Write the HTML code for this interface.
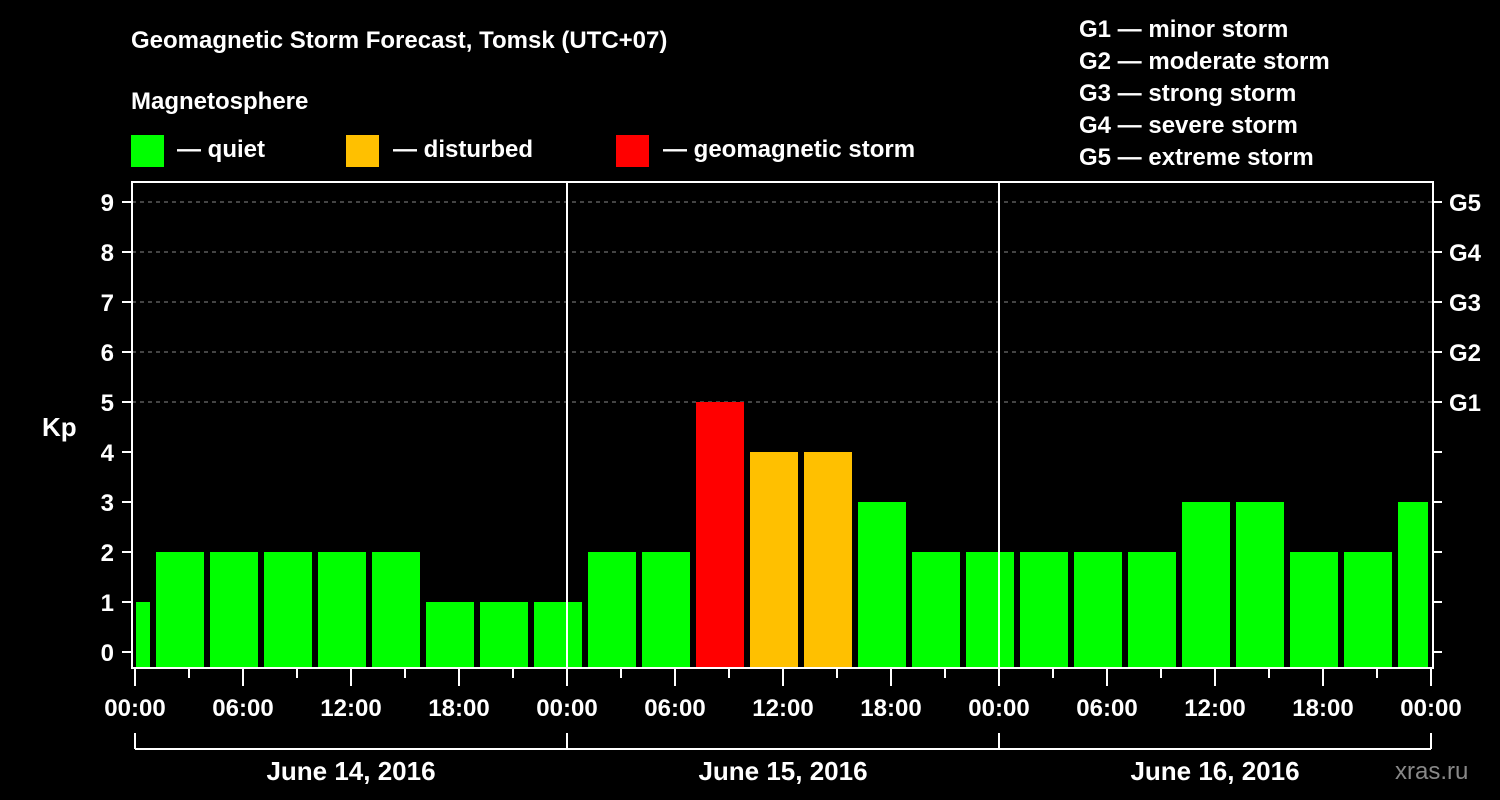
<!DOCTYPE html>
<html><head><meta charset="utf-8"><style>
html,body{margin:0;padding:0;background:#000;}
svg{display:block;font-family:"Liberation Sans",Arial,sans-serif;font-weight:bold;}
</style></head><body>
<svg id="chart" width="1500" height="800" viewBox="0 0 1500 800">
<rect width="1500" height="800" fill="#000"/>
<text x="131" y="48" fill="#fff" font-size="24">Geomagnetic Storm Forecast, Tomsk (UTC+07)</text>
<text x="131" y="109" fill="#fff" font-size="24">Magnetosphere</text>
<g><rect x="131" y="135" width="33" height="32" fill="#00ff00"/><text x="177" y="157" fill="#fff" font-size="24">— quiet</text></g>
<g><rect x="346" y="135" width="33" height="32" fill="#ffc000"/><text x="393" y="157" fill="#fff" font-size="24">— disturbed</text></g>
<g><rect x="616" y="135" width="33" height="32" fill="#ff0000"/><text x="663" y="157" fill="#fff" font-size="24">— geomagnetic storm</text></g>
<g fill="#fff" font-size="24">
<text x="1079" y="37">G1 — minor storm</text>
<text x="1079" y="69">G2 — moderate storm</text>
<text x="1079" y="101">G3 — strong storm</text>
<text x="1079" y="133">G4 — severe storm</text>
<text x="1079" y="165">G5 — extreme storm</text>
</g>
<g id="grid"></g>
<g id="bars"></g>
<g id="axes"></g>
<text x="42" y="436" fill="#fff" font-size="26">Kp</text>
<text x="1395" y="779" fill="#888" font-size="24" font-weight="normal">xras.ru</text>
</svg>
<script>
const kpValues=[1,2,2,2,2,2,1,1,1,2,2,5,4,4,3,2,2,2,2,2,3,3,2,2,3];
const kpTicks=[0,1,2,3,4,5,6,7,8,9];
const gLabels=["G1","G2","G3","G4","G5"];
const gLevels=[5,6,7,8,9];
const dayLabels=["June 14, 2016","June 15, 2016","June 16, 2016"];
const hourLabels=["00:00","06:00","12:00","18:00"];
const NS="http://www.w3.org/2000/svg";
const X0=135,PXH=18,Y0=652,PXU=50,L=132,R=1433,T=182,B=668;
const xs=h=>X0+h*PXH, ys=v=>Y0-v*PXU;
function mk(tag,attrs,parent){const e=document.createElementNS(NS,tag);for(const k in attrs)e.setAttribute(k,attrs[k]);document.getElementById(parent).appendChild(e);return e;}
const color=v=>v>=5?"#ff0000":v>=4?"#ffc000":"#00ff00";
// grid
gLevels.forEach(v=>{const l=mk("line",{x1:L,x2:R,y1:ys(v),y2:ys(v),stroke:"#888","stroke-dasharray":"4,4","stroke-width":1},"grid");

});
// bars
kpValues.forEach((v,i)=>{const c=xs(-0.5+3*i);let x1=Math.max(c-24,L+4),x2=Math.min(c+24,R-5);
const r=mk("rect",{x:x1,y:ys(v),width:x2-x1,height:B-ys(v),fill:color(v)},"bars");

});
// frame
const f=mk("rect",{x:L,y:T,width:R-L,height:B-T,fill:"none",stroke:"#fff","stroke-width":2},"axes");


[1,2].forEach(d=>{const l=mk("line",{x1:xs(24*d),x2:xs(24*d),y1:T,y2:B,stroke:"#fff","stroke-width":2},"axes");

});
kpTicks.forEach(v=>{mk("line",{x1:122,x2:L,y1:ys(v),y2:ys(v),stroke:"#fff","stroke-width":2},"axes");
mk("line",{x1:R,x2:1442,y1:ys(v),y2:ys(v),stroke:"#fff","stroke-width":2},"axes");
const t=mk("text",{x:114,y:ys(v)+9,fill:"#fff","font-size":24,"text-anchor":"end"},"axes");t.textContent=v;

});
gLevels.forEach((v,i)=>{const t=mk("text",{x:1449,y:ys(v)+9,fill:"#fff","font-size":24},"axes");t.textContent=gLabels[i];

});
for(let h=0;h<=72;h+=3){const maj=h%6===0;mk("line",{x1:xs(h),x2:xs(h),y1:B,y2:maj?686:678,stroke:"#fff","stroke-width":2},"axes");
if(maj){const t=mk("text",{x:xs(h),y:716,fill:"#fff","font-size":24,"text-anchor":"middle"},"axes");t.textContent=hourLabels[(h/6)%4];

}}
mk("line",{x1:xs(0),x2:xs(72),y1:749,y2:749,stroke:"#fff","stroke-width":2},"axes");
for(let d=0;d<=3;d++)mk("line",{x1:xs(24*d),x2:xs(24*d),y1:733,y2:749,stroke:"#fff","stroke-width":2},"axes");
dayLabels.forEach((s,d)=>{const t=mk("text",{x:xs(24*d+12),y:780,fill:"#fff","font-size":26,"text-anchor":"middle"},"axes");t.textContent=s;

});
</script>
</body></html>
